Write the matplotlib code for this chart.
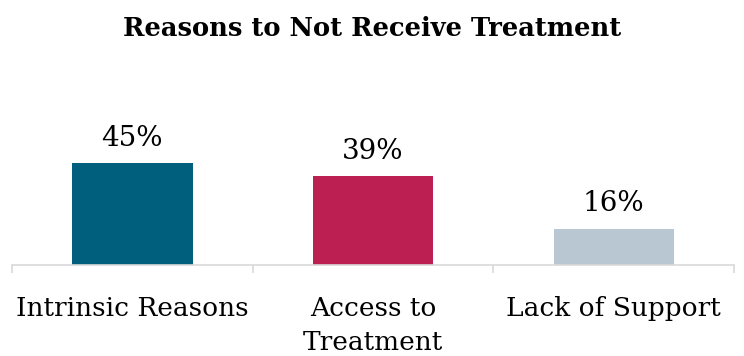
import matplotlib.pyplot as plt
from matplotlib.ticker import FixedLocator

categories = ['Intrinsic Reasons', 'Access to\nTreatment', 'Lack of Support']
values = [45, 39, 16]
colors = ['#005F7C', '#BC1F52', '#B9C7D2']

plt.rcParams['font.family'] = ['DejaVu Serif']

fig = plt.figure(figsize=(7.44, 3.56), dpi=100)
ax = fig.add_axes([12 / 744, 1 - 265 / 356, 722 / 744, 185 / 356])

x = list(range(len(categories)))
bars = ax.bar(x, values, width=0.5, color=colors)

for b, v in zip(bars, values):
    ax.text(b.get_x() + b.get_width() / 2, v + 5, f'{v}%', ha='center', va='bottom',
            fontsize=20, color='#000000')

ax.set_xlim(-0.5, 2.5)
ax.set_ylim(0, 81.5)

for s in ['top', 'right', 'left']:
    ax.spines[s].set_visible(False)
ax.spines['bottom'].set_color('#D9D9D9')
ax.spines['bottom'].set_linewidth(1.2)

ax.set_yticks([])
ax.set_xticks(x)
ax.set_xticklabels(categories, fontsize=19, linespacing=1.45)
ax.tick_params(axis='x', which='major', length=0, pad=22)
ax.xaxis.set_minor_locator(FixedLocator([-0.5, 0.5, 1.5, 2.5]))
ax.tick_params(axis='x', which='minor', length=6, width=1.2, color='#D9D9D9')

fig.text(0.5, 1 - 28 / 356, 'Reasons to Not Receive Treatment', ha='center', va='center',
         fontsize=18.5, fontweight='bold')

fig.savefig('out.png', dpi=100)
